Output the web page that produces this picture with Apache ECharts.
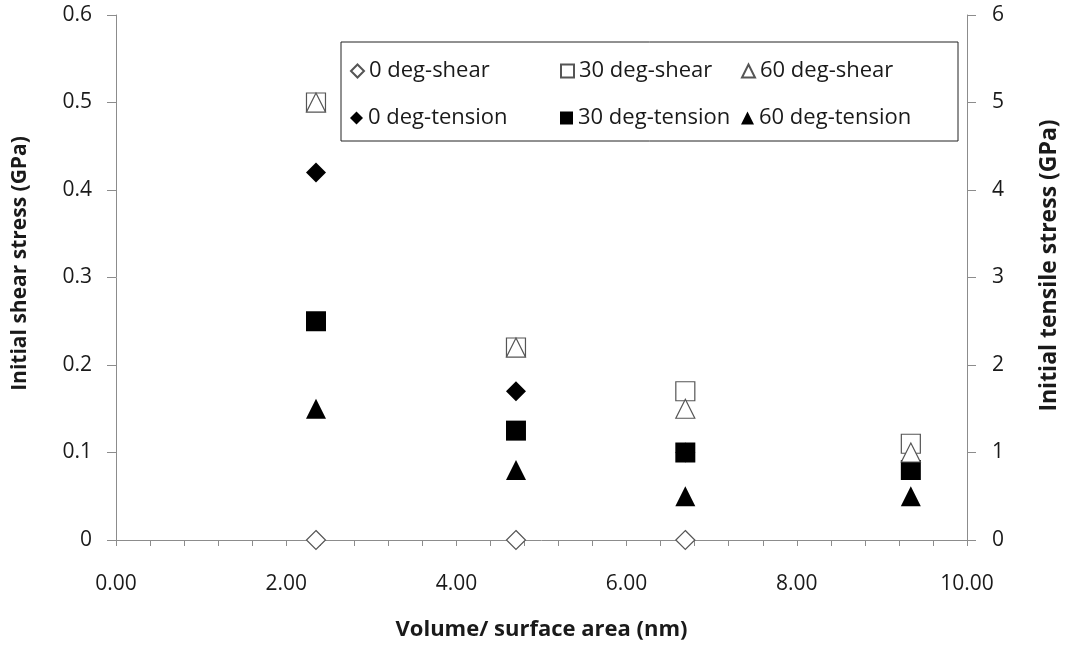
<!DOCTYPE html>
<html>
<head>
<meta charset="utf-8">
<script src="https://cdn.jsdelivr.net/npm/echarts@6/dist/echarts.min.js"></script>
<style>
  html, body { margin: 0; padding: 0; background: #fff; }
  #chart { width: 1065px; height: 646px; }
</style>
</head>
<body>
<div id="chart"></div>
<script>
// Volume-to-surface ratio (nm) of each specimen
const ratioX = [2.35, 4.70, 6.69, 9.34];

// Initial shear stress (GPa), left axis
const shear0 = [0, 0, 0, null];
const shear30 = [0.50, 0.22, 0.17, 0.11];
const shear60 = [0.50, 0.22, 0.15, 0.10];

// Initial tensile stress (GPa), right axis
const tension0 = [4.2, 1.7, 1.0, null];
const tension30 = [2.5, 1.25, 1.0, 0.8];
const tension60 = [1.5, 0.8, 0.5, 0.5];

const seriesDefs = [
  { name: '0 deg-shear', values: shear0, symbol: 'diamond', filled: false, axis: 0 },
  { name: '30 deg-shear', values: shear30, symbol: 'rect', filled: false, axis: 0 },
  { name: '60 deg-shear', values: shear60, symbol: 'triangle', filled: false, axis: 0 },
  { name: '0 deg-tension', values: tension0, symbol: 'diamond', filled: true, axis: 1 },
  { name: '30 deg-tension', values: tension30, symbol: 'rect', filled: true, axis: 1 },
  { name: '60 deg-tension', values: tension60, symbol: 'triangle', filled: true, axis: 1 }
];

const FONT = '"Open Sans", "Noto Sans", sans-serif';
const AXIS_GREY = '#8c8c8c';
const TEXT = '#1a1a1a';

function pairs(values) {
  const out = [];
  values.forEach((v, i) => { if (v !== null) out.push([ratioX[i], v]); });
  return out;
}

const series = seriesDefs.map(d => ({
  name: d.name,
  type: 'scatter',
  yAxisIndex: d.axis,
  symbol: d.symbol,
  symbolSize: d.filled ? 20 : 19,
  data: pairs(d.values),
  itemStyle: d.filled
    ? { color: '#000', borderColor: '#000', borderWidth: 0, opacity: 1 }
    : { color: '#fff', borderColor: '#555', borderWidth: 1.2, opacity: 1 },
  z: d.filled ? 2 : 3
}));

// legend laid out as a 3 x 2 table inside a framed box
const legendCols = [350, 560, 741];
const legendRows = [60, 107];
const legends = seriesDefs.map((d, i) => ({
  data: [d.name],
  left: legendCols[i % 3],
  top: legendRows[Math.floor(i / 3)],
  itemWidth: 13,
  itemHeight: 13,
  itemGap: 0,
  padding: 0,
  textStyle: { fontFamily: FONT, fontSize: 22, color: TEXT },
  selectedMode: false
}));

const chart = echarts.init(document.getElementById('chart'), null, { renderer: 'canvas' });

chart.setOption({
  backgroundColor: '#fff',
  animation: false,
  grid: { left: 116, right: 98, top: 15, bottom: 106, containLabel: false, outerBoundsMode: 'none' },
  legend: legends,
  graphic: [{
    type: 'rect',
    shape: { x: 341, y: 42, width: 617, height: 99 },
    style: { fill: 'none', stroke: '#222', lineWidth: 1 },
    z: 0
  }],
  xAxis: {
    type: 'value',
    min: 0, max: 10, interval: 2,
    name: 'Volume/ surface area (nm)',
    nameLocation: 'middle',
    nameGap: 79,
    nameTextStyle: { fontFamily: FONT, fontSize: 22, fontWeight: 'bold', color: TEXT },
    axisLine: { show: true, onZero: false, lineStyle: { color: AXIS_GREY, width: 1 } },
    axisTick: { show: true, inside: false, length: 6, lineStyle: { color: AXIS_GREY } },
    minorTick: { show: true, splitNumber: 5, length: 6, lineStyle: { color: AXIS_GREY } },
    axisLabel: { fontFamily: FONT, fontSize: 21, color: TEXT, margin: 34,
      formatter: v => v.toFixed(2) },
    splitLine: { show: false },
    minorSplitLine: { show: false }
  },
  yAxis: [{
    type: 'value',
    min: 0, max: 0.6, interval: 0.1,
    position: 'left',
    name: 'Initial shear stress (GPa)',
    nameLocation: 'middle',
    nameGap: 85,
    nameTextStyle: { fontFamily: FONT, fontSize: 21, fontWeight: 'bold', color: TEXT,
      padding: [0, 0, 0, 28] },
    axisLine: { show: true, lineStyle: { color: AXIS_GREY, width: 1 } },
    axisTick: { show: true, inside: false, length: 9, lineStyle: { color: AXIS_GREY } },
    axisLabel: { fontFamily: FONT, fontSize: 21, color: TEXT, margin: 24,
      formatter: v => (v === 0 ? '0' : v.toFixed(1)) },
    splitLine: { show: false }
  }, {
    type: 'value',
    min: 0, max: 6, interval: 1,
    position: 'right',
    name: 'Initial tensile stress (GPa)',
    nameLocation: 'middle',
    nameGap: 71,
    nameRotate: 90,
    nameTextStyle: { fontFamily: FONT, fontSize: 23, fontWeight: 'bold', color: TEXT,
      padding: [0, 0, 0, 24] },
    axisLine: { show: true, lineStyle: { color: AXIS_GREY, width: 1 } },
    axisTick: { show: true, inside: false, length: 9, lineStyle: { color: AXIS_GREY } },
    axisLabel: { fontFamily: FONT, fontSize: 21, color: TEXT, margin: 25 },
    splitLine: { show: false }
  }],
  series: series
});
</script>
</body>
</html>
